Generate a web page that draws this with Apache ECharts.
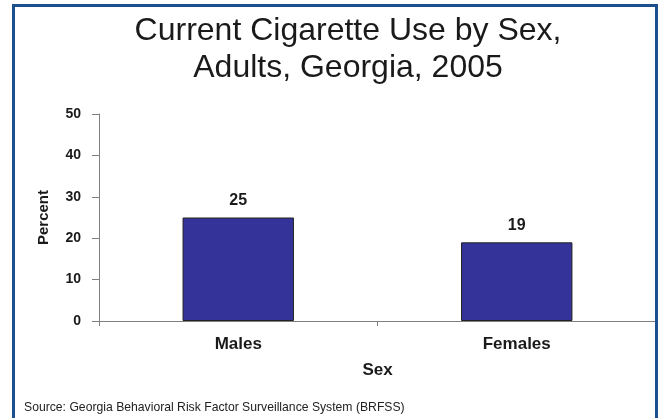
<!DOCTYPE html>
<html>
<head>
<meta charset="utf-8">
<script src="https://cdn.jsdelivr.net/npm/echarts@6/dist/echarts.min.js"></script>
<style>
html,body{margin:0;padding:0;background:#fff;}
#chart{width:661px;height:418px;}
</style>
</head>
<body>
<div id="chart"></div>
<script>
const categories = ['Males', 'Females'];
const percentValues = [25, 19];
const yTicks = [0, 10, 20, 30, 40, 50];
const titleText = 'Current Cigarette Use by Sex,\nAdults, Georgia, 2005';
const sourceText = 'Source: Georgia Behavioral Risk Factor Surveillance System (BRFSS)';

const chart = echarts.init(document.getElementById('chart'), null, {renderer: 'canvas'});
const font = 'Liberation Sans, Arial, Helvetica, sans-serif';
chart.setOption({
  animation: false,
  backgroundColor: '#ffffff',
  textStyle: {fontFamily: font},
  title: {
    text: titleText,
    left: 343, top: 8, textAlign: 'center',
    textStyle: {fontSize: 32, fontWeight: 'normal', color: '#1a1a1a', lineHeight: 37, fontFamily: font}
  },
  graphic: [
    {type: 'polyline', shape: {points: [[13.5, 418], [13.5, 5.5], [656.5, 5.5], [656.5, 418]]},
     style: {stroke: '#1c4f8c', lineWidth: 3, fill: null}, z: 100},
    {type: 'text', left: 24, top: 402, style: {text: sourceText, font: '12.2px ' + font, fill: '#222'}}
  ],
  grid: {left: 99, right: 5, top: 114, bottom: 97},
  xAxis: {
    type: 'category', data: categories,
    name: 'Sex', nameLocation: 'middle', nameGap: 41,
    nameTextStyle: {fontSize: 17, fontWeight: 'bold', color: '#1a1a1a'},
    axisLine: {lineStyle: {color: '#808080', width: 1}},
    axisTick: {show: true, length: 5, lineStyle: {color: '#808080'}},
    axisLabel: {fontSize: 17, fontWeight: 'bold', color: '#1a1a1a', margin: 15}
  },
  yAxis: {
    type: 'value', min: yTicks[0], max: yTicks[yTicks.length - 1], interval: 10,
    name: 'Percent', nameLocation: 'middle', nameGap: 48, nameRotate: 90,
    nameTextStyle: {fontSize: 15, fontWeight: 'bold', color: '#1a1a1a'},
    axisLine: {show: true, lineStyle: {color: '#808080', width: 1}},
    axisTick: {show: true, length: 7, lineStyle: {color: '#808080'}},
    axisLabel: {fontSize: 14, fontWeight: 'bold', color: '#1a1a1a', margin: 18},
    splitLine: {show: false}
  },
  series: [{
    type: 'bar', data: percentValues, barWidth: '40%',
    itemStyle: {color: '#333399', borderColor: '#222222', borderWidth: 1},
    label: {show: true, position: 'top', distance: 9, fontSize: 16, fontWeight: 'bold', color: '#1a1a1a'}
  }]
});
</script>
</body>
</html>
